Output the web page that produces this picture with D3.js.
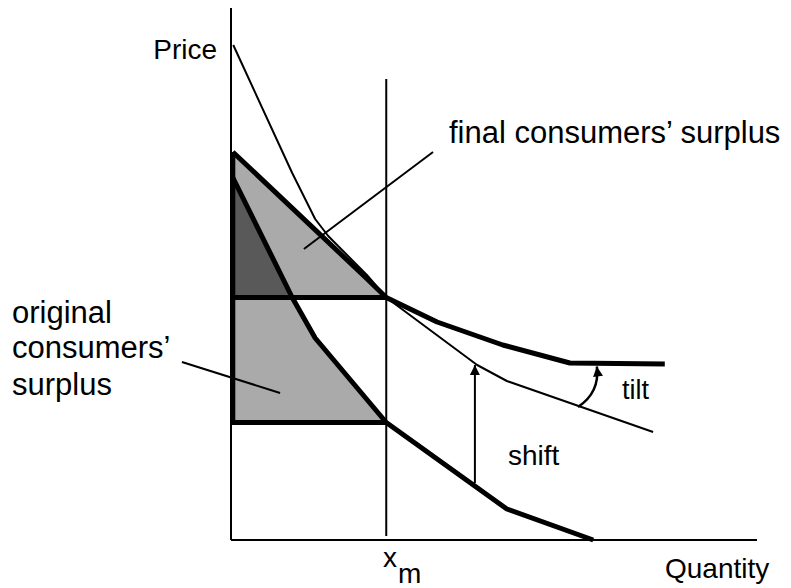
<!DOCTYPE html>
<html>
<head>
<meta charset="utf-8">
<script src="https://cdn.jsdelivr.net/npm/d3@7"></script>
<style>
  body { margin: 0; background: #fff; }
  text { font-family: "Liberation Sans", Arial, Helvetica, sans-serif; fill: #000; }
</style>
</head>
<body>
<div id="chart"></div>
<script>
// curves (quantity, price)
var originalDemand = [[0.04, 7.25], [1.36, 4.85], [1.87, 4.04], [3.45, 2.35], [6.13, 0.62], [8.05, 0]];
var shiftedDemand = [[0.05, 9.9], [1.36, 7.34], [1.87, 6.42], [2.16, 6.08], [2.6, 5.68], [3.02, 5.3],
                     [3.45, 4.85], [5.47, 3.5], [6.13, 3.18], [9.38, 2.16]];
var finalDemand = [[0.04, 7.76], [2.98, 5.26], [3.45, 4.85], [4.58, 4.36], [6.04, 3.9], [7.53, 3.54], [9.64, 3.52]];

var xm = 3.45;
var originalPrice = 2.35;
var finalPrice = 4.85;

var width = 791, height = 588;

var svg = d3.select("#chart")
  .append("svg")
    .attr("width", width)
    .attr("height", height);

var x = d3.scaleLinear().domain([0, 10]).range([231, 681]);
var y = d3.scaleLinear().domain([0, 10]).range([540, 40]);

var line = d3.line()
  .x(function (d) { return x(d[0]); })
  .y(function (d) { return y(d[1]); });

var q0 = originalDemand[0][0];

// surplus areas
var finalArea = [[q0, finalPrice]].concat(finalDemand.filter(function (d) { return d[0] <= xm; }));
finalArea.push([xm, finalPrice]);

var lowerArea = [[q0, originalPrice], [q0, finalPrice]]
  .concat(originalDemand.filter(function (d) { return d[1] <= finalPrice && d[1] >= originalPrice; }));

var overlapArea = originalDemand.filter(function (d) { return d[1] >= finalPrice; });
overlapArea.push([q0, finalPrice]);

svg.append("path").attr("d", line(finalArea) + "Z").attr("fill", "#aaaaaa");
svg.append("path").attr("d", line(lowerArea) + "Z").attr("fill", "#aaaaaa");
svg.append("path").attr("d", line(overlapArea) + "Z").attr("fill", "#595959");

// axes
svg.append("line")
  .attr("x1", x(0)).attr("y1", 8).attr("x2", x(0)).attr("y2", y(0))
  .attr("stroke", "#000").attr("stroke-width", 2);
svg.append("line")
  .attr("x1", x(0)).attr("y1", y(0)).attr("x2", 757).attr("y2", y(0))
  .attr("stroke", "#000").attr("stroke-width", 2);

// x_m line
svg.append("line")
  .attr("x1", x(xm)).attr("y1", y(9.22)).attr("x2", x(xm)).attr("y2", y(0.08))
  .attr("stroke", "#000").attr("stroke-width", 2);

// thin shifted curve
svg.append("path")
  .attr("d", line(shiftedDemand))
  .attr("fill", "none").attr("stroke", "#000").attr("stroke-width", 2)
  .attr("stroke-linejoin", "round");

// leader lines
svg.append("line")
  .attr("x1", x(4.49)).attr("y1", y(7.76)).attr("x2", x(1.62)).attr("y2", y(5.82))
  .attr("stroke", "#000").attr("stroke-width", 2);
svg.append("line")
  .attr("x1", x(-1.09)).attr("y1", y(3.56)).attr("x2", x(1.09)).attr("y2", y(2.94))
  .attr("stroke", "#000").attr("stroke-width", 2);

// thick lines
var thick = svg.append("g")
  .attr("fill", "none").attr("stroke", "#000").attr("stroke-width", 5)
  .attr("stroke-linejoin", "round");
thick.append("path").attr("d", line(finalDemand));
thick.append("path").attr("d", line(originalDemand));
thick.append("path").attr("d", line([[q0, finalPrice], [xm, finalPrice]]));
thick.append("path").attr("d", line([[q0, originalPrice], [xm, originalPrice]]));
thick.append("path").attr("d", line([[q0, originalPrice - 0.05], [q0, finalDemand[0][1]]]));

// arrow heads
svg.append("defs").append("marker")
    .attr("id", "head")
    .attr("viewBox", "0 0 10 10")
    .attr("refX", 10).attr("refY", 5)
    .attr("markerUnits", "userSpaceOnUse")
    .attr("markerWidth", 15).attr("markerHeight", 10)
    .attr("orient", "auto")
  .append("path")
    .attr("d", "M0,0L10,5L0,10Z")
    .attr("fill", "#000");

// shift arrow
svg.append("line")
  .attr("x1", x(5.42)).attr("y1", y(1.14)).attr("x2", x(5.42)).attr("y2", y(3.5))
  .attr("stroke", "#000").attr("stroke-width", 2)
  .attr("marker-end", "url(#head)");

// tilt arrow
var p = d3.path();
p.moveTo(x(7.71), y(2.66));
p.quadraticCurveTo(x(8.2), y(2.95), x(8.13), y(3.47));
svg.append("path")
  .attr("d", p.toString())
  .attr("fill", "none").attr("stroke", "#000").attr("stroke-width", 2.5)
  .attr("marker-end", "url(#head)");

// labels
svg.append("text").attr("x", 217).attr("y", 59).attr("text-anchor", "end")
  .attr("font-size", 28).text("Price");
svg.append("text").attr("x", 665).attr("y", 578)
  .attr("font-size", 28).text("Quantity");
svg.append("text").attr("x", 449).attr("y", 143)
  .attr("font-size", 31).text("final consumers\u2019 surplus");

var orig = svg.append("text").attr("font-size", 31);
orig.append("tspan").attr("x", 12).attr("y", 323).text("original");
orig.append("tspan").attr("x", 12).attr("y", 358).text("consumers\u2019");
orig.append("tspan").attr("x", 12).attr("y", 395).text("surplus");

svg.append("text").attr("x", 622).attr("y", 399)
  .attr("font-size", 27).text("tilt");
svg.append("text").attr("x", 508).attr("y", 465)
  .attr("font-size", 28).text("shift");

svg.append("text").attr("x", 383).attr("y", 567)
  .attr("font-size", 28).text("x");
svg.append("text").attr("x", 398).attr("y", 583)
  .attr("font-size", 28).text("m");
</script>
</body>
</html>
